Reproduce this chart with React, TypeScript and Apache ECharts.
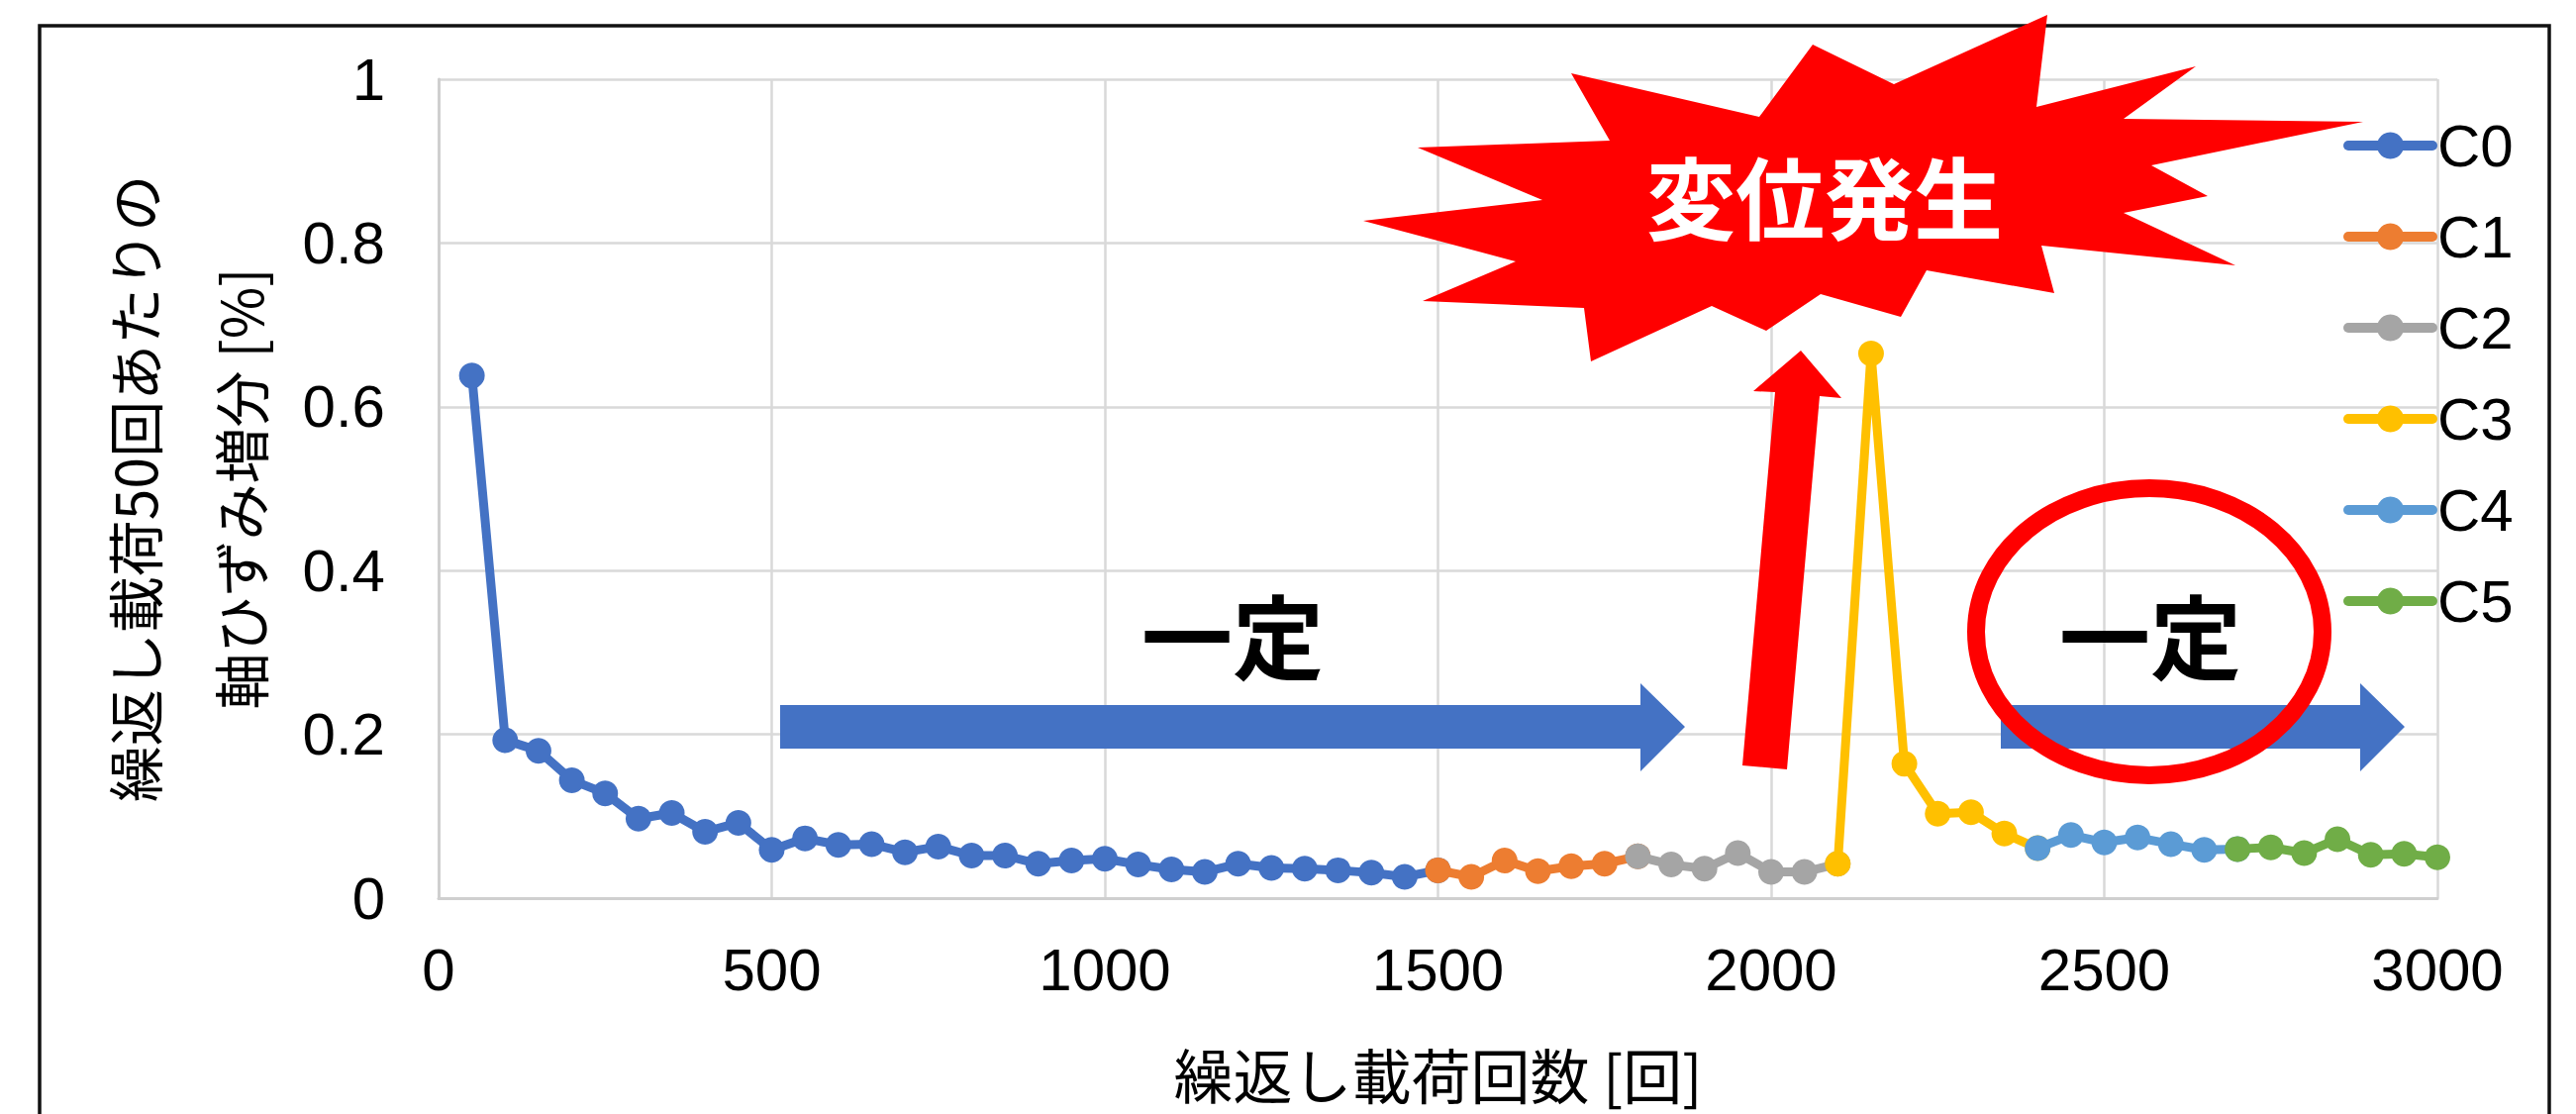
import React, { useEffect, useRef } from "react";
import * as echarts from "echarts";

const seriesNames = ["C0", "C1", "C2", "C3", "C4", "C5"];
const seriesColors = ["#4472C4", "#ED7D31", "#A5A5A5", "#FFC000", "#5B9BD5", "#70AD47"];

// cycles (x) and strain increment (y); each series also carries the first point of the next one
const c0X = [50, 100, 150, 200, 250, 300, 350, 400, 450, 500, 550, 600, 650, 700, 750, 800, 850, 900, 950, 1000, 1050, 1100, 1150, 1200, 1250, 1300, 1350, 1400, 1450, 1500];
const c0Y = [0.638, 0.193, 0.18, 0.144, 0.128, 0.097, 0.104, 0.081, 0.092, 0.059, 0.073, 0.065, 0.066, 0.056, 0.063, 0.052, 0.052, 0.042, 0.046, 0.048, 0.041, 0.035, 0.032, 0.042, 0.037, 0.036, 0.034, 0.031, 0.026, 0.034];
const c1X = [1500, 1550, 1600, 1650, 1700, 1750, 1800];
const c1Y = [0.034, 0.026, 0.046, 0.033, 0.039, 0.042, 0.051];
const c2X = [1800, 1850, 1900, 1950, 2000, 2050, 2100];
const c2Y = [0.051, 0.041, 0.036, 0.055, 0.032, 0.032, 0.042];
const c3X = [2100, 2150, 2200, 2250, 2300, 2350, 2400];
const c3Y = [0.042, 0.665, 0.164, 0.103, 0.105, 0.079, 0.061];
const c4X = [2400, 2450, 2500, 2550, 2600, 2650, 2700];
const c4Y = [0.061, 0.077, 0.068, 0.074, 0.066, 0.059, 0.06];
const c5X = [2700, 2750, 2800, 2850, 2900, 2950, 3000];
const c5Y = [0.06, 0.062, 0.055, 0.072, 0.053, 0.054, 0.05];

const allX = [c0X, c1X, c2X, c3X, c4X, c5X];
const allY = [c0Y, c1Y, c2Y, c3Y, c4Y, c5Y];

const xTitle = "繰返し載荷回数 [回]";
const yTitle = "繰返し載荷50回あたりの\n軸ひずみ増分 [%]";
const burstText = "変位発生";
const flatText = "一定";

const FONT = '"Liberation Sans", Arial, "Noto Sans CJK JP", sans-serif';
const CJK = '"Noto Sans CJK JP", "Liberation Sans", sans-serif';

export default function App() {
  const ref = useRef<HTMLDivElement>(null);
  useEffect(() => {
    document.body.style.margin = "0";
    const chart = echarts.init(ref.current!, null, { renderer: "svg" });
    const series = seriesNames.map((name, i) => ({
      name,
      type: "line",
      data: allX[i].map((x, j) => [x, allY[i][j]]),
      symbol: "circle",
      symbolSize: 26,
      showSymbol: true,
      color: seriesColors[i],
      lineStyle: { width: 9, color: seriesColors[i], cap: "round", join: "round" },
      itemStyle: { color: seriesColors[i] },
      z: 2 + i,
      emphasis: { disabled: true },
    }));
    const burst = [
      [2068, 15], [2057, 108], [2218, 67], [2145, 120], [2387, 123], [2173, 167], [2230, 198], [2145, 215],
      [2258, 268], [2062, 248], [2075, 296], [1946, 273], [1920, 320], [1839, 297], [1784, 334], [1729, 309],
      [1607, 365], [1600, 311], [1437, 304], [1531, 264], [1377, 223], [1558, 202], [1432, 149], [1626, 142],
      [1587, 74], [1777, 118], [1831, 45], [1913, 85],
    ];
    const redArrow = [[1819, 354], [1860, 402], [1838, 400], [1805, 777], [1760, 773], [1793, 396], [1771, 395]];
    const blueArrow1 = [[788, 712], [1657, 712], [1657, 690], [1702, 734], [1657, 779], [1657, 756], [788, 756]];
    const blueArrow2 = [[2021, 712], [2384, 712], [2384, 690], [2429, 734], [2384, 779], [2384, 756], [2021, 756]];
    chart.setOption({
      animation: false,
      backgroundColor: "#ffffff",
      textStyle: { fontFamily: FONT },
      grid: { left: 443, right: 140, top: 80, bottom: 218, containLabel: false },
      xAxis: {
        type: "value",
        min: 0,
        max: 3000,
        interval: 500,
        axisLine: { show: true, lineStyle: { color: "#CFCFCF", width: 3 } },
        axisTick: { show: false },
        splitLine: { show: true, lineStyle: { color: "#D9D9D9", width: 2.5 } },
        axisLabel: { fontSize: 60, color: "#000", margin: 42, fontFamily: FONT, formatter: (v: number) => String(v) },
        name: xTitle,
        nameLocation: "middle",
        nameGap: 146,
        nameTextStyle: { fontSize: 60, color: "#000", fontFamily: CJK, lineHeight: 60 },
      },
      yAxis: {
        type: "value",
        min: 0,
        max: 1,
        interval: 0.2,
        axisLine: { show: true, lineStyle: { color: "#CFCFCF", width: 3 } },
        axisTick: { show: false },
        splitLine: { show: true, lineStyle: { color: "#D9D9D9", width: 2.5 } },
        axisLabel: { fontSize: 60, color: "#000", margin: 54, fontFamily: FONT },
        name: yTitle,
        nameLocation: "middle",
        nameRotate: 90,
        nameGap: 140,
        nameTextStyle: { fontSize: 57, color: "#000", fontFamily: CJK, lineHeight: 107 },
      },
      legend: {
        data: seriesNames,
        orient: "vertical",
        left: 2367,
        top: 117,
        padding: 0,
        itemWidth: 85,
        itemHeight: 34,
        itemGap: 32,
        lineStyle: { width: 10, cap: "round" },
        textStyle: { fontSize: 60, color: "#000", lineHeight: 60, fontFamily: FONT },
      },
      series,
      graphic: [
        { type: "rect", z: 100, shape: { x: 40, y: 26, width: 2535, height: 1200 }, style: { fill: "transparent", stroke: "#111", lineWidth: 3.5 } },
        { type: "polygon", z: 100, shape: { points: burst }, style: { fill: "#FF0000" } },
        { type: "text", z: 101, x: 1843, y: 196, style: { text: burstText, fill: "#ffffff", fontSize: 90, fontWeight: "bold", fontFamily: CJK, align: "center", verticalAlign: "middle" } },
        { type: "polygon", z: 100, shape: { points: redArrow }, style: { fill: "#FF0000" } },
        { type: "polygon", z: 100, shape: { points: blueArrow1 }, style: { fill: "#4472C4" } },
        { type: "polygon", z: 100, shape: { points: blueArrow2 }, style: { fill: "#4472C4" } },
        { type: "ellipse", z: 101, shape: { cx: 2171, cy: 638, rx: 175, ry: 145 }, style: { fill: "transparent", stroke: "#FF0000", lineWidth: 18 } },
        { type: "text", z: 102, x: 1245, y: 638, style: { text: flatText, fill: "#000", fontSize: 92, fontWeight: "bold", fontFamily: CJK, align: "center", verticalAlign: "middle" } },
        { type: "text", z: 102, x: 2172, y: 638, style: { text: flatText, fill: "#000", fontSize: 92, fontWeight: "bold", fontFamily: CJK, align: "center", verticalAlign: "middle" } },
      ],
    });
    return () => chart.dispose();
  }, []);
  return <div ref={ref} style={{ width: 2602, height: 1125 }} />;
}
